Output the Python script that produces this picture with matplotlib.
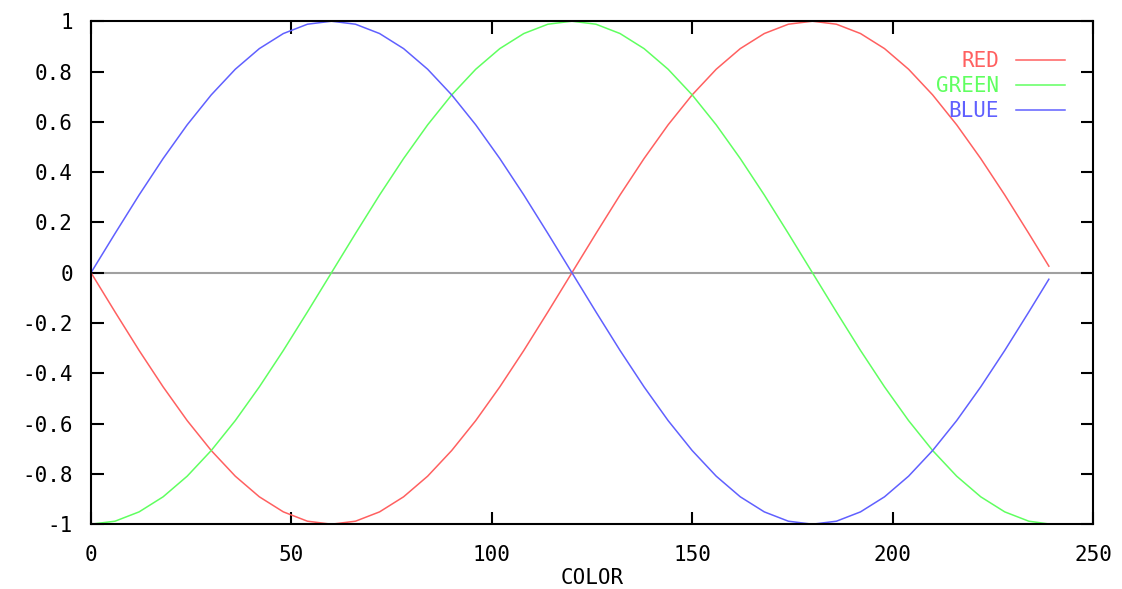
import matplotlib
matplotlib.use("Agg")
import matplotlib.pyplot as plt

# sample positions along COLOR axis
color = [0, 6, 12, 18, 24, 30, 36, 42, 48, 54, 60, 66, 72, 78, 84, 90, 96, 102, 108, 114,
         120, 126, 132, 138, 144, 150, 156, 162, 168, 174, 180, 186, 192, 198, 204, 210,
         216, 222, 228, 234, 239]

blue = [0.0, 0.156, 0.309, 0.454, 0.588, 0.707, 0.809, 0.891, 0.951, 0.988,
        1.0, 0.988, 0.951, 0.891, 0.809, 0.707, 0.588, 0.454, 0.309, 0.156,
        0.0, -0.156, -0.309, -0.454, -0.588, -0.707, -0.809, -0.891, -0.951, -0.988,
        -1.0, -0.988, -0.951, -0.891, -0.809, -0.707, -0.588, -0.454, -0.309, -0.156,
        -0.026]

red = [0.0, -0.156, -0.309, -0.454, -0.588, -0.707, -0.809, -0.891, -0.951, -0.988,
       -1.0, -0.988, -0.951, -0.891, -0.809, -0.707, -0.588, -0.454, -0.309, -0.156,
       0.0, 0.156, 0.309, 0.454, 0.588, 0.707, 0.809, 0.891, 0.951, 0.988,
       1.0, 0.988, 0.951, 0.891, 0.809, 0.707, 0.588, 0.454, 0.309, 0.156,
       0.026]

green = [-1.0, -0.988, -0.951, -0.891, -0.809, -0.707, -0.588, -0.454, -0.309, -0.156,
         0.0, 0.156, 0.309, 0.454, 0.588, 0.707, 0.809, 0.891, 0.951, 0.988,
         1.0, 0.988, 0.951, 0.891, 0.809, 0.707, 0.588, 0.454, 0.309, 0.156,
         0.0, -0.156, -0.309, -0.454, -0.588, -0.707, -0.809, -0.891, -0.951, -0.988,
         -0.999]

xticks = [0, 50, 100, 150, 200, 250]
yticks = [-1, -0.8, -0.6, -0.4, -0.2, 0, 0.2, 0.4, 0.6, 0.8, 1]
ytick_labels = ["-1", "-0.8", "-0.6", "-0.4", "-0.2", "0", "0.2", "0.4", "0.6", "0.8", "1"]

plt.rcParams["font.family"] = "DejaVu Sans Mono"
plt.rcParams["font.size"] = 15

fig = plt.figure(figsize=(11.22, 5.89), dpi=100)
ax = fig.add_axes([0.0811, 0.110, 0.893, 0.854])

ax.axhline(0, color="#a0a0a0", lw=1.5, zorder=1)
ax.plot(color, red, color="#ff6060", lw=1.1, label="RED")
ax.plot(color, green, color="#60ff60", lw=1.1, label="GREEN")
ax.plot(color, blue, color="#6060ff", lw=1.1, label="BLUE")

ax.set_xlim(0, 250)
ax.set_ylim(-1, 1)
ax.set_xticks(xticks)
ax.set_yticks(yticks)
ax.set_yticklabels(ytick_labels)
ax.tick_params(direction="in", length=9, width=1.5, top=True, right=True)
ax.tick_params(axis="y", pad=13)
ax.tick_params(axis="x", pad=15)
for s in ax.spines.values():
    s.set_linewidth(1.5)

ax.set_xlabel("COLOR", labelpad=2)

ax.legend(loc="upper right", bbox_to_anchor=(0.993, 0.982), frameon=False,
          markerfirst=False, labelcolor="linecolor",
          handlelength=2.35, handletextpad=0.82, labelspacing=0.24,
          borderaxespad=0.6)

fig.savefig("out.png", dpi=100)
